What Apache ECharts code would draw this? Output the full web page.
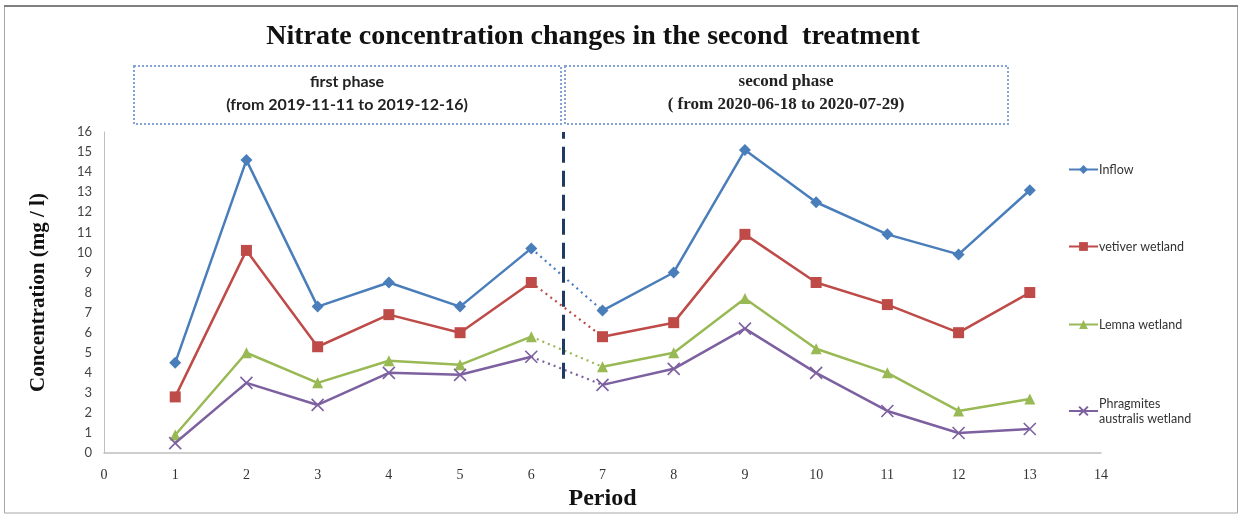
<!DOCTYPE html>
<html>
<head>
<meta charset="utf-8">
<script src="https://cdn.jsdelivr.net/npm/echarts@6/dist/echarts.min.js"></script>
<style>html,body{margin:0;padding:0;background:#fff;}#c{width:1242px;height:516px;}</style>
</head>
<body>
<div id="c"></div>
<script>
const periods = [1,2,3,4,5,6,7,8,9,10,11,12,13];
const inflow = [4.5,14.6,7.3,8.5,7.3,10.2,7.1,9.0,15.1,12.5,10.9,9.9,13.1];
const vetiver = [2.8,10.1,5.3,6.9,6.0,8.5,5.8,6.5,10.9,8.5,7.4,6.0,8.0];
const lemna = [0.9,5.0,3.5,4.6,4.4,5.8,4.3,5.0,7.7,5.2,4.0,2.1,2.7];
const phragmites = [0.5,3.5,2.4,4.0,3.9,4.8,3.4,4.2,6.2,4.0,2.1,1.0,1.2];
const phaseSplit = 6; // periods 1-6 first phase, 7-13 second phase
const seriesNames = ['Inflow','vetiver wetland','Lemna wetland','Phragmites\naustralis wetland'];
const seriesValues = [inflow, vetiver, lemna, phragmites];
const seriesColors = ['#4a7ebb','#be4b48','#98b954','#7d60a0'];
const crossPath = 'path://M0,0L10,10M10,0L0,10';
const seriesSymbols = ['diamond','rect','triangle',crossPath];
const symbolSizes = [12,11,11,12];

const chart = echarts.init(document.getElementById('c'), null, {renderer:'canvas'});

const series = [];
seriesNames.forEach((name, k) => {
  const pts = periods.map((p, i) => [p, seriesValues[k][i]]);
  const isCross = k === 3;
  const common = {
    name: name, type: 'line',
    symbol: seriesSymbols[k], symbolSize: symbolSizes[k],
    lineStyle: {color: seriesColors[k], width: 2.5},
    itemStyle: isCross ? {color: seriesColors[k], borderColor: seriesColors[k], borderWidth: 1.6}
                       : {color: seriesColors[k], borderColor: seriesColors[k], borderWidth: 0},
    emphasis: {disabled: true}, animation: false, z: 5
  };
  series.push(Object.assign({}, common, {data: pts.slice(0, phaseSplit)}));
  series.push(Object.assign({}, common, {data: pts.slice(phaseSplit)}));
  const conn = {
    name: name, type: 'line', showSymbol: false, symbol: 'none',
    lineStyle: {color: seriesColors[k], width: 2.2, type: [2,4]},
    itemStyle: {color: seriesColors[k]},
    data: pts.slice(phaseSplit - 1, phaseSplit + 1),
    emphasis: {disabled: true}, animation: false, z: 4
  };
  if (k === 0) {
    conn.markLine = {
      silent: true, symbol: ['none','none'], label: {show: false},
      lineStyle: {color: '#1f3a64', width: 3, type: [16,8]},
      data: [[{coord: [6.45, 3.7]}, {coord: [6.45, 16]}]]
    };
  }
  series.push(conn);
});

const legendTops = [157, 234, 312, 391];
const legends = seriesNames.map((name, k) => ({
  orient: 'vertical', left: 1063, top: legendTops[k],
  data: [name], itemWidth: 29, itemHeight: 11, itemGap: 0,
  selectedMode: false,
  textStyle: {fontFamily: 'Lato', fontSize: 12.5, color: '#333', lineHeight: 15, padding: [0,0,0,-4]}
}));

const boxStroke = '#86a3d9';
chart.setOption({
  backgroundColor: '#fff',
  animation: false,
  title: {
    text: 'Nitrate concentration changes in the second  treatment',
    left: 588, top: 18, textAlign: 'center',
    textStyle: {fontFamily: 'Liberation Serif', fontWeight: 'bold', fontSize: 28, color: '#111'}
  },
  legend: legends,
  grid: {left: 104, right: 141, top: 132, bottom: 61},
  xAxis: {
    type: 'value', min: 0, max: 14, interval: 1,
    name: 'Period', nameLocation: 'middle', nameGap: 28,
    nameTextStyle: {fontFamily: 'Liberation Serif', fontWeight: 'bold', fontSize: 24, color: '#111'},
    axisLine: {lineStyle: {color: '#bfbfbf', width: 1.5}},
    axisTick: {show: false}, splitLine: {show: false},
    axisLabel: {fontFamily: 'Liberation Serif', fontSize: 14, color: '#333', margin: 15}
  },
  yAxis: {
    type: 'value', min: 0, max: 16, interval: 1,
    name: 'Concentration (mg / l)', nameLocation: 'middle', nameGap: 55,
    nameTextStyle: {fontFamily: 'Liberation Serif', fontWeight: 'bold', fontSize: 21, color: '#111'},
    axisLine: {show: true, lineStyle: {color: '#bfbfbf', width: 1}},
    axisTick: {show: false}, splitLine: {show: false},
    axisLabel: {fontFamily: 'Lato', fontSize: 13, color: '#444', margin: 12}
  },
  series: series,
  graphic: [
    {type: 'rect', shape: {x: 4.5, y: 6, width: 1233, height: 507}, silent: true, z: -10,
     style: {fill: 'none', stroke: '#a6a6a6', lineWidth: 1}},
    {type: 'line', shape: {x1: 4, y1: 6, x2: 1238, y2: 6}, silent: true, z: -9,
     style: {stroke: '#808080', lineWidth: 2}},
    {type: 'rect', shape: {x: 134, y: 66, width: 427, height: 58}, silent: true,
     style: {fill: 'none', stroke: boxStroke, lineWidth: 2, lineDash: [2,2]}},
    {type: 'rect', shape: {x: 565, y: 66, width: 443, height: 58}, silent: true,
     style: {fill: 'none', stroke: boxStroke, lineWidth: 2, lineDash: [2,2]}},
    {type: 'text', x: 347, y: 70, silent: true,
     style: {text: 'first phase\n(from 2019-11-11 to 2019-12-16)', align: 'center', textAlign: 'center',
             font: 'bold 16px Lato', fill: '#222', lineHeight: 23}},
    {type: 'text', x: 786, y: 70, silent: true,
     style: {text: 'second phase\n( from 2020-06-18 to 2020-07-29)', align: 'center', textAlign: 'center',
             font: 'bold 17px "Liberation Serif"', fill: '#222', lineHeight: 23}}
  ]
});
</script>
</body>
</html>
